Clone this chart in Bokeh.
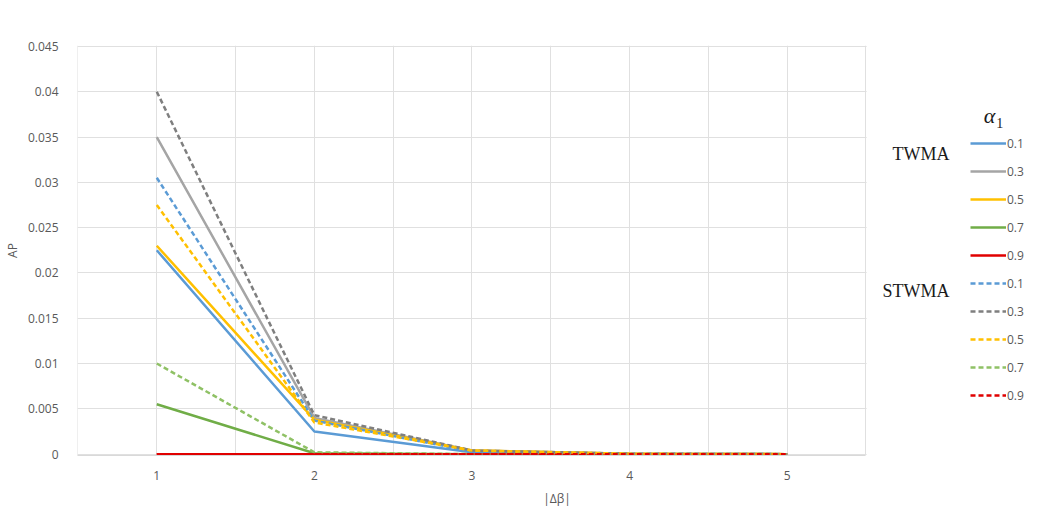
from bokeh.plotting import figure
from bokeh.models import FixedTicker, Legend, LegendItem, Range1d, Label, BoxAnnotation
from bokeh.embed import file_html
from bokeh.resources import INLINE

# ---- data ----
delta_beta = [1, 2, 3, 4, 5]
alphas = ["0.1", "0.3", "0.5", "0.7", "0.9"]

twma_01 = [0.0225, 0.0025, 0.0002, 0.00002, 0.0]
twma_03 = [0.0350, 0.0040, 0.0004, 0.00003, 0.0]
twma_05 = [0.0230, 0.0038, 0.0004, 0.00003, 0.0]
twma_07 = [0.0055, 0.0001, 0.0, 0.0, 0.0]
twma_09 = [0.0, 0.0, 0.0, 0.0, 0.0]

stwma_01 = [0.0305, 0.0037, 0.0003, 0.00002, 0.0]
stwma_03 = [0.0400, 0.0043, 0.0004, 0.00005, 0.0]
stwma_05 = [0.0275, 0.0035, 0.0004, 0.00004, 0.0]
stwma_07 = [0.0100, 0.0002, 0.0, 0.0, 0.0]
stwma_09 = [0.0, 0.0, 0.0, 0.0, 0.0]

y_ticks = [0, 0.005, 0.01, 0.015, 0.02, 0.025, 0.03, 0.035, 0.04, 0.045]
y_tick_labels = ["0", "0.005", "0.01", "0.015", "0.02", "0.025", "0.03", "0.035", "0.04", "0.045"]
x_ticks = [1, 2, 3, 4, 5]
x_grid_ticks = [0.5, 1, 1.5, 2, 2.5, 3, 3.5, 4, 4.5, 5, 5.5]

twma_series = [twma_01, twma_03, twma_05, twma_07, twma_09]
stwma_series = [stwma_01, stwma_03, stwma_05, stwma_07, stwma_09]

solid_colors = ["#5B9BD5", "#A5A5A5", "#FFC000", "#70AD47", "#E00000"]
dash_colors = ["#5B9BD5", "#7F7F7F", "#FFC000", "#8FC165", "#E00000"]

GRID = "#E0E0E0"
TXT = "#595959"
FONT = "Open Sans"
SERIF = "Liberation Serif"

X_START, X_PLOT_END, X_END = 0.497, 5.5, 6.582
Y_START, Y_END = -0.00015, 0.0451

p = figure(frame_width=959, frame_height=410, output_backend="svg", toolbar_location=None,
           x_range=Range1d(X_START, X_END), y_range=Range1d(Y_START, Y_END),
           min_border_left=77, min_border_right=0, min_border_top=45,
           min_border_bottom=54)

p.outline_line_color = None

# axes
p.xaxis.ticker = FixedTicker(ticks=x_ticks)
p.xaxis.bounds = (X_START, X_PLOT_END)
p.yaxis.ticker = FixedTicker(ticks=y_ticks)
p.yaxis.major_label_overrides = {t: l for t, l in zip(y_ticks, y_tick_labels)}
for ax in (p.xaxis, p.yaxis):
    ax.major_tick_line_color = None
    ax.minor_tick_line_color = None
    ax.major_label_text_color = TXT
    ax.major_label_text_font = FONT
    ax.major_label_text_font_size = "12px"
    ax.axis_label_text_color = TXT
    ax.axis_label_text_font = FONT
    ax.axis_label_text_font_size = "12px"
    ax.axis_label_text_font_style = "normal"
p.yaxis.axis_line_color = None
p.xaxis.axis_line_color = "#D9D9D9"
p.xaxis.major_label_standoff = 9
p.yaxis.major_label_standoff = 13
p.xaxis.axis_label = "|Δβ|"
p.yaxis.axis_label = "AP"
p.xaxis.axis_label_standoff = 7
p.yaxis.axis_label_standoff = 4

p.xgrid.ticker = FixedTicker(ticks=x_grid_ticks)
p.xgrid.grid_line_color = GRID
p.ygrid.grid_line_color = GRID

# white area right of the plotting region (legend side)
p.add_layout(BoxAnnotation(left=X_PLOT_END + 0.004, top=Y_END + 0.001, fill_color="white",
                           fill_alpha=1.0, line_color=None, level="annotation"))

items = []
for s, c, a in zip(twma_series, solid_colors, alphas):
    r = p.line(delta_beta, s, line_color=c, line_width=2.5)
    items.append(LegendItem(label=a, renderers=[r]))
for s, c, a in zip(stwma_series, dash_colors, alphas):
    r = p.line(delta_beta, s, line_color=c, line_width=2.5, line_dash="5 3")
    items.append(LegendItem(label=a, renderers=[r]))

legend = Legend(items=items, location=(893, 50), padding=0, margin=0,
                spacing=8, glyph_width=36, glyph_height=20, label_height=20,
                label_standoff=1, label_text_font=FONT, label_text_font_size="12px",
                label_text_color=TXT, background_fill_alpha=0, border_line_color=None)
p.add_layout(legend, "center")

p.add_layout(Label(x=5.849, y=0.0331, text="TWMA", text_align="center",
                   text_baseline="middle", text_font=SERIF,
                   text_font_size="18px", text_color="#1a1a1a"))
p.add_layout(Label(x=5.817, y=0.0180, text="STWMA", text_align="center",
                   text_baseline="middle", text_font=SERIF,
                   text_font_size="18px", text_color="#1a1a1a"))
p.add_layout(Label(x=6.284, y=0.0374, text="α", text_align="center",
                   text_baseline="middle", text_font=SERIF,
                   text_font_style="italic", text_font_size="22px", text_color="#1a1a1a"))
p.add_layout(Label(x=6.349, y=0.0366, text="1", text_align="center",
                   text_baseline="middle", text_font=SERIF,
                   text_font_size="14px", text_color="#1a1a1a"))

open("out.html", "w").write(file_html(p, INLINE))
